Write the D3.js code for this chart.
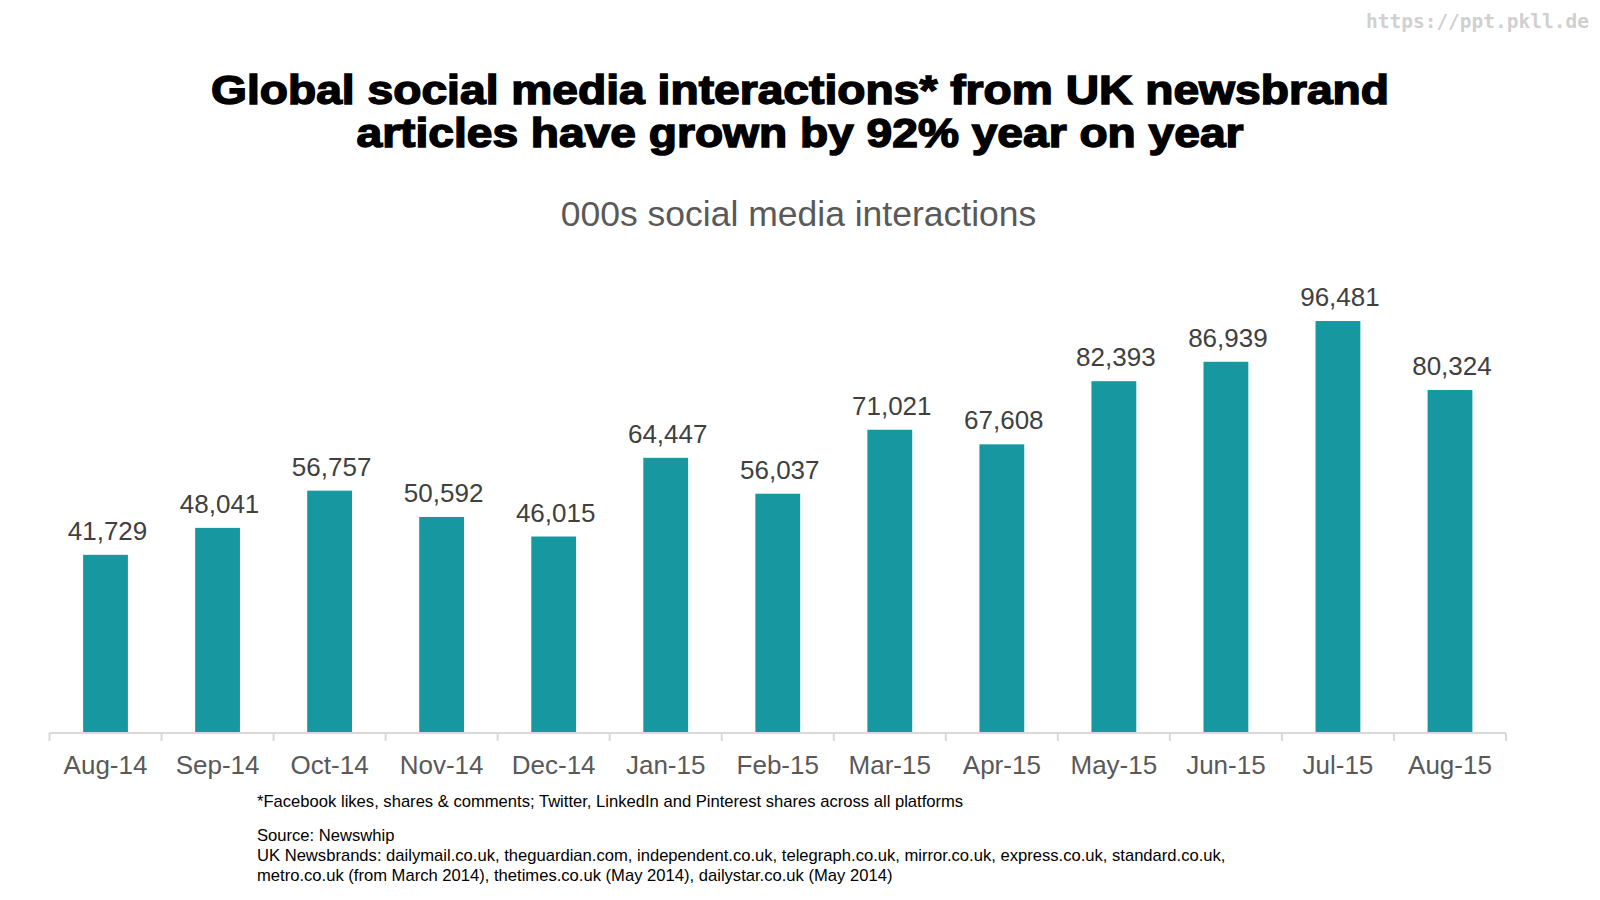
<!DOCTYPE html>
<html>
<head>
<meta charset="utf-8">
<script src="https://cdn.jsdelivr.net/npm/d3@7"></script>
<style>
	body { margin: 0; background: #fff; }
	svg { display: block; }
</style>
</head>
<body>
<script>
// chart data
let months = ['Aug-14', 'Sep-14', 'Oct-14', 'Nov-14', 'Dec-14', 'Jan-15', 'Feb-15',
	'Mar-15', 'Apr-15', 'May-15', 'Jun-15', 'Jul-15', 'Aug-15'];
let interactions = [41729, 48041, 56757, 50592, 46015, 64447, 56037,
	71021, 67608, 82393, 86939, 96481, 80324];

let titleLines = ['Global social media interactions* from UK newsbrand',
	'articles have grown by 92% year on year'];
let subtitle = '000s social media interactions';
let notes = ['*Facebook likes, shares & comments; Twitter, LinkedIn and Pinterest shares across all platforms',
	'Source: Newswhip',
	'UK Newsbrands: dailymail.co.uk, theguardian.com, independent.co.uk, telegraph.co.uk, mirror.co.uk, express.co.uk, standard.co.uk,',
	'metro.co.uk (from March 2014), thetimes.co.uk (May 2014), dailystar.co.uk (May 2014)'];

let dataset = months.map(function(m, i) {
	return { month: m, value: interactions[i] };
});

let svg = d3.select('body').append('svg')
	.attr('width', 1600)
	.attr('height', 900);

//watermark
svg.append('text')
	.attr('x', 1589)
	.attr('y', 28)
	.attr('text-anchor', 'end')
	.attr('font-family', 'DejaVu Sans Mono')
	.attr('font-weight', 'bold')
	.attr('font-size', '19.5px')
	.attr('fill', '#d0d0d0')
	.text('https://ppt.pkll.de');

//title
let titleWidths = [1178, 887];
svg.selectAll('.title')
	.data(titleLines)
	.enter()
	.append('text')
	.attr('class', 'title')
	.attr('x', 800)
	.attr('y', function(d, i) { return 104 + i * 43; })
	.attr('text-anchor', 'middle')
	.attr('font-family', 'Liberation Sans, Arial, sans-serif')
	.attr('font-weight', 'bold')
	.attr('font-size', '41px')
	.attr('fill', '#000')
	.attr('stroke', '#000')
	.attr('stroke-width', 1.5)
	.attr('textLength', function(d, i) { return titleWidths[i]; })
	.attr('lengthAdjust', 'spacingAndGlyphs')
	.text(function(d) { return d; });

//subtitle
svg.append('text')
	.attr('x', 798.5)
	.attr('y', 226)
	.attr('text-anchor', 'middle')
	.attr('font-family', 'Liberation Sans, Arial, sans-serif')
	.attr('font-size', '35.5px')
	.attr('fill', '#595959')
	.text(subtitle);

//scales
let xScale = d3.scaleBand()
	.domain(months)
	.range([49.5, 1506])
	.padding(0);

let yScale = d3.scaleLinear()
	.domain([0, 100000])
	.range([733, 306]);

let barWidth = xScale.bandwidth() * 0.4;

//bars
svg.append('g')
	.selectAll('rect')
	.data(dataset)
	.enter()
	.append('rect')
	.attr('fill', '#1798a0')
	.attr('x', function(d) { return xScale(d.month) + (xScale.bandwidth() - barWidth) / 2; })
	.attr('y', function(d) { return yScale(d.value); })
	.attr('width', barWidth)
	.attr('height', function(d) { return yScale(0) - yScale(d.value); });

//value labels
svg.append('g')
	.selectAll('text')
	.data(dataset)
	.enter()
	.append('text')
	.attr('x', function(d) { return xScale(d.month) + xScale.bandwidth() / 2 + 2; })
	.attr('y', function(d) { return yScale(d.value) - 15; })
	.attr('text-anchor', 'middle')
	.attr('font-family', 'Liberation Sans, Arial, sans-serif')
	.attr('font-size', '26px')
	.attr('fill', '#404040')
	.text(function(d) { return d3.format(',')(d.value); });

//x axis line + boundary ticks
let axis = svg.append('g');
axis.append('line')
	.attr('x1', xScale.range()[0])
	.attr('x2', xScale.range()[1])
	.attr('y1', yScale(0))
	.attr('y2', yScale(0))
	.attr('stroke', '#d9d9d9')
	.attr('stroke-width', 2);

let tickPos = months.map(function(m) { return xScale(m); }).concat([xScale.range()[1]]);
axis.selectAll('.tick')
	.data(tickPos)
	.enter()
	.append('line')
	.attr('class', 'tick')
	.attr('x1', function(d) { return d; })
	.attr('x2', function(d) { return d; })
	.attr('y1', yScale(0))
	.attr('y2', yScale(0) + 8)
	.attr('stroke', '#d9d9d9')
	.attr('stroke-width', 2);

axis.selectAll('.label')
	.data(months)
	.enter()
	.append('text')
	.attr('class', 'label')
	.attr('x', function(d) { return xScale(d) + xScale.bandwidth() / 2; })
	.attr('y', 774)
	.attr('text-anchor', 'middle')
	.attr('font-family', 'Liberation Sans, Arial, sans-serif')
	.attr('font-size', '26px')
	.attr('fill', '#595959')
	.text(function(d) { return d; });

//footnotes
let noteY = [807, 841, 861, 881];
svg.selectAll('.note')
	.data(notes)
	.enter()
	.append('text')
	.attr('class', 'note')
	.attr('x', 257)
	.attr('y', function(d, i) { return noteY[i]; })
	.attr('font-family', 'Liberation Sans, Arial, sans-serif')
	.attr('font-size', '16.6px')
	.attr('fill', '#000')
	.text(function(d) { return d; });
</script>
</body>
</html>
